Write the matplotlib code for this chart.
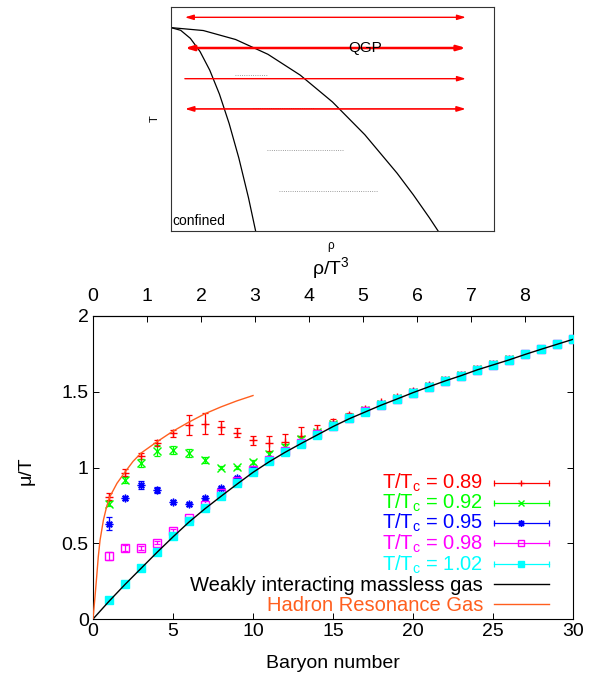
import matplotlib
matplotlib.use('Agg')
import matplotlib.pyplot as plt
from matplotlib.ticker import FormatStrFormatter, MultipleLocator
import numpy as np

plt.rcParams['font.family'] = ['Liberation Sans', 'DejaVu Sans']
plt.rcParams['mathtext.fontset'] = 'custom'
plt.rcParams['mathtext.rm'] = 'Liberation Sans'
plt.rcParams['mathtext.it'] = 'Liberation Sans'

# --- main plot data: mu/T vs baryon number ---
baryon = np.arange(1, 31)

mu_089 = [0.807, 0.966, 1.076, 1.16, 1.225, 1.28, 1.29, 1.265, 1.23, 1.18,
          1.16, 1.17, 1.205, 1.25, 1.30, 1.345, 1.385, 1.43, 1.465, 1.505,
          1.542, 1.58, 1.613, 1.652, 1.685, 1.718, 1.752, 1.785, 1.818, 1.85]
err_089 = [0.022, 0.022, 0.02, 0.02, 0.025, 0.066, 0.07, 0.045, 0.03, 0.03,
           0.05, 0.05, 0.06, 0.03, 0.02, 0.015, 0.012, 0.01, 0.01, 0.01,
           0.008, 0.008, 0.008, 0.008, 0.008, 0.008, 0.008, 0.008, 0.008, 0.008]

mu_092 = [0.762, 0.92, 1.028, 1.111, 1.115, 1.094, 1.05, 0.999, 1.001, 1.038,
          1.087, 1.137, 1.186, 1.235, 1.288, 1.335, 1.378, 1.42, 1.46, 1.5,
          1.538, 1.575, 1.608, 1.648, 1.68, 1.713, 1.75, 1.783, 1.815, 1.848]
err_092 = [0.015, 0.02, 0.025, 0.035, 0.025, 0.025, 0.02, 0.01, 0.01, 0.012,
           0.015, 0.015, 0.015, 0.01, 0.01, 0.01, 0.01, 0.01, 0.01, 0.01,
           0.01, 0.01, 0.01, 0.01, 0.01, 0.01, 0.01, 0.01, 0.01, 0.01]

mu_095 = [0.63, 0.80, 0.884, 0.851, 0.774, 0.759, 0.80, 0.862, 0.928, 0.99,
          1.056, 1.109, 1.165, 1.222, 1.28, 1.33, 1.372, 1.416, 1.455, 1.497,
          1.536, 1.573, 1.606, 1.646, 1.679, 1.712, 1.748, 1.781, 1.814, 1.847]
err_095 = [0.045, 0.012, 0.025, 0.022, 0.012, 0.01, 0.01, 0.012, 0.01, 0.008,
           0.008, 0.008, 0.008, 0.008, 0.008, 0.008, 0.008, 0.008, 0.008, 0.008,
           0.008, 0.008, 0.008, 0.008, 0.008, 0.008, 0.008, 0.008, 0.008, 0.008]

mu_098 = [0.416, 0.471, 0.467, 0.504, 0.581, 0.665, 0.752, 0.83, 0.912, 0.983,
          1.048, 1.106, 1.16, 1.218, 1.277, 1.327, 1.37, 1.415, 1.453, 1.495,
          1.534, 1.572, 1.605, 1.645, 1.678, 1.711, 1.747, 1.78, 1.813, 1.846]
err_098 = [0.025, 0.02, 0.012, 0.01, 0.01, 0.008, 0.008, 0.008, 0.008, 0.008,
           0.008, 0.008, 0.008, 0.008, 0.008, 0.008, 0.008, 0.008, 0.008, 0.008,
           0.008, 0.008, 0.008, 0.008, 0.008, 0.008, 0.008, 0.008, 0.008, 0.008]

mu_102 = [0.123, 0.23, 0.334, 0.444, 0.548, 0.647, 0.73, 0.812, 0.895, 0.972,
          1.04, 1.10, 1.155, 1.215, 1.274, 1.325, 1.368, 1.413, 1.452, 1.494,
          1.533, 1.571, 1.604, 1.644, 1.677, 1.71, 1.747, 1.78, 1.813, 1.846]
err_102 = [0.006] * 30

# free massless gas curve
gas_b = np.arange(0, 31)
gas_mu = [0, 0.117, 0.228, 0.334, 0.44, 0.542, 0.64, 0.728, 0.81, 0.89,
          0.968, 1.037, 1.1, 1.158, 1.214, 1.27, 1.321, 1.366, 1.411, 1.452,
          1.494, 1.533, 1.571, 1.606, 1.644, 1.677, 1.71, 1.746, 1.78, 1.813, 1.846]

# hadron resonance gas curve
hrg_b = [0, 0.125, 0.23, 0.33, 0.44, 0.65, 0.85, 1.05, 1.5, 2, 2.5, 3,
         4, 5, 6, 7, 8, 9, 10]
hrg_mu = [0, 0.147, 0.279, 0.411, 0.52, 0.653, 0.741, 0.807, 0.896, 0.97,
          1.04, 1.095, 1.17, 1.24, 1.30, 1.355, 1.40, 1.44, 1.475]

series = [
    ('T/T$_c$ = 0.89', mu_089, err_089, '#ff0000', '+', True),
    ('T/T$_c$ = 0.92', mu_092, err_092, '#00ff00', 'x', True),
    ('T/T$_c$ = 0.95', mu_095, err_095, '#0000ff', (8, 2, 0), True),
    ('T/T$_c$ = 0.98', mu_098, err_098, '#ff00ff', 's', False),
    ('T/T$_c$ = 1.02', mu_102, err_102, '#00ffff', 's', True),
]
gas_color = 'black'
hrg_color = '#ff5f1f'

# --- inset: schematic phase diagram ---
inner_x = [0, 0.3, 0.6, 0.9, 1.2, 1.5, 1.8, 2.1, 2.4, 2.62]
inner_y = [0.908, 0.896, 0.860, 0.801, 0.718, 0.611, 0.480, 0.326, 0.148, 0.0]
outer_x = [0, 1, 2, 3, 4, 5, 6, 7, 7.5, 8.0, 8.27]
outer_y = [0.908, 0.895, 0.855, 0.789, 0.696, 0.576, 0.430, 0.258, 0.162, 0.059, 0.0]
arrow_y = [0.954, 0.817, 0.68, 0.545]
arrow_style = ['<|-|>', '<|-|>', '-|>', '<|-|>']
arrow_lw = [1.0, 1.8, 1.0, 1.2]
dot_x0 = [1.98, 2.55, 2.96, 3.34]
dot_x1 = [2.98, 4.46, 5.33, 6.37]
dot_y = [0.695, 0.548, 0.362, 0.18]

fig = plt.figure(figsize=(5.89, 6.81), dpi=100)

ax = fig.add_axes([0.1579, 0.0910, 0.8149, 0.4450])
ax.plot(gas_b, gas_mu, color=gas_color, lw=1.0, zorder=6)
ax.plot(hrg_b, hrg_mu, color=hrg_color, lw=1.0, zorder=6)
for lab, mu, err, c, m, filled in series:
    ax.errorbar(baryon, mu, yerr=err, fmt='none', ecolor=c, elinewidth=0.9,
                capsize=2.3, capthick=0.9, zorder=4)
    ax.plot(baryon, mu, ls='none', marker=m, ms=5.5, color=c,
            mfc=c if filled else 'none', mec=c, mew=1.0, zorder=5)

ax.set_xlim(0, 30)
ax.set_ylim(0, 2)
ax.xaxis.set_major_locator(MultipleLocator(5))
ax.yaxis.set_major_locator(MultipleLocator(0.5))
ax.yaxis.set_major_formatter(FormatStrFormatter('%g'))
ax.tick_params(direction='in', length=4, width=0.7, labelsize=14, pad=3,
               right=True, top=False)
for s in ax.spines.values():
    s.set_linewidth(0.8)

top = ax.secondary_xaxis('top', functions=(lambda b: b / 3.375, lambda r: r * 3.375))
top.xaxis.set_major_locator(MultipleLocator(1))
top.tick_params(direction='in', length=4, width=0.7, labelsize=14, pad=8)

fig.text(26.5 / 589, 1 - 471 / 681, 'μ/T', rotation=90, ha='center', va='center',
         fontsize=14)
fig.text(333 / 589, 1 - 663 / 681, 'Baryon number', ha='center', va='center',
         fontsize=14)

# legend drawn by hand, gnuplot style (text left, sample right)
rows = [0.45, 0.384, 0.318, 0.251, 0.182, 0.114, 0.0495]
tx, x0, x1 = 0.8125, 0.835, 0.95
for (lab, mu, err, c, m, filled), ry in zip(series, rows):
    ax.text(tx, ry - 0.0215, lab, ha='right', va='baseline', color=c,
            fontsize=14.5, transform=ax.transAxes)
    ax.plot([x0, x1], [ry, ry], color=c, lw=0.9, transform=ax.transAxes,
            clip_on=False)
    ax.plot([x0, x1], [ry, ry], ls='none', marker='|', ms=5, color=c,
            mew=0.9, transform=ax.transAxes, clip_on=False)
    ax.plot([(x0 + x1) / 2], [ry], ls='none', marker=m, ms=5, color=c,
            mfc=c if filled else 'none', mec=c, mew=1.0,
            transform=ax.transAxes, clip_on=False)
for lab, c, ry in [('Weakly interacting massless gas', gas_color, rows[5]),
                   ('Hadron Resonance Gas', hrg_color, rows[6])]:
    ax.text(tx, ry - 0.0215, lab, ha='right', va='baseline', color=c,
            fontsize=14.5, transform=ax.transAxes)
    ax.plot([x0, x1], [ry, ry], color=c, lw=1.0, transform=ax.transAxes,
            clip_on=False)

# inset
axi = fig.add_axes([0.2903, 0.6608, 0.5484, 0.3289])
axi.set_xlim(0, 10)
axi.set_ylim(0, 1)
axi.set_xticks([])
axi.set_yticks([])
for s in axi.spines.values():
    s.set_linewidth(0.8)
    s.set_color('#333333')
axi.plot(inner_x, inner_y, color='black', lw=0.9)
axi.plot(outer_x, outer_y, color='black', lw=0.9)
for a, b, y in zip(dot_x0, dot_x1, dot_y):
    axi.plot([a, b], [y, y], color='gray', lw=0.6, ls=':')
for y, st, lw in zip(arrow_y, arrow_style, arrow_lw):
    axi.annotate('', xy=(9.13, y), xytext=(0.43, y),
                 arrowprops=dict(arrowstyle=st + ',head_length=0.5,head_width=0.15',
                                 color='red', lw=lw, shrinkA=0, shrinkB=0))
axi.text(6.0, 0.816, 'QGP', ha='center', va='center', fontsize=11)
axi.text(0.05, 0.045, 'confined', ha='left', va='center', fontsize=10)

fig.text(155 / 589, 1 - 119 / 681, 'T', rotation=90, ha='center', va='center',
         fontsize=8)
fig.text(331 / 589, 1 - 268 / 681, 'ρ/T$^3$', ha='center', va='center',
         fontsize=14)
fig.text(331 / 589, 1 - 246 / 681, 'ρ', ha='center', va='center', fontsize=8.5)

fig.savefig('out.png', dpi=100)
